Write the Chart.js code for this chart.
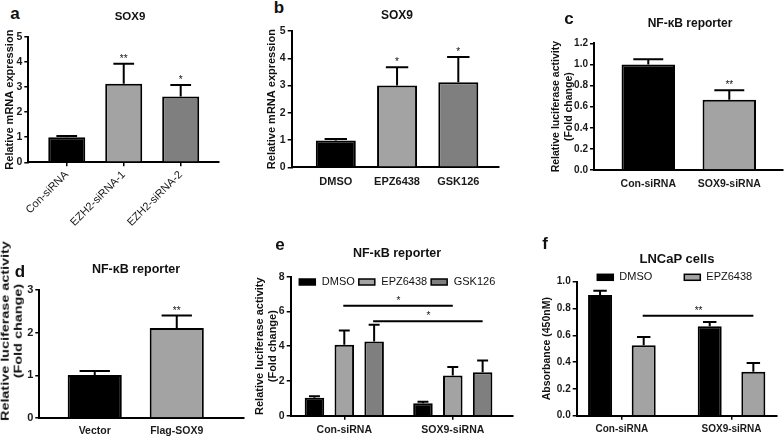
<!DOCTYPE html>
<html>
<head>
<meta charset="utf-8">
<script src="https://cdn.jsdelivr.net/npm/chart.js@4.4.1/dist/chart.umd.min.js"></script>
<style>
  body { margin: 0; background: #fff; }
  #fig { position: relative; width: 784px; height: 436px; overflow: hidden; font-family: 'Liberation Sans', Arial, sans-serif; color: #111; }
  #fig canvas { position: absolute; }
  .t { position: absolute; transform: translate(-50%, -50%); font-weight: bold; white-space: nowrap; }
  .l { position: absolute; transform: translate(-50%, -50%); font-weight: bold; font-size: 17px; }
</style>
</head>
<body>
<div id="fig">
  <canvas id="ca" width="250" height="201" style="left:0;top:25px"></canvas>
  <canvas id="cb" width="270" height="180" style="left:250px;top:20px"></canvas>
  <canvas id="cc" width="264" height="175" style="left:520px;top:25px"></canvas>
  <canvas id="cd" width="250" height="186" style="left:0;top:250px"></canvas>
  <canvas id="ce" width="270" height="201" style="left:250px;top:235px"></canvas>
  <canvas id="cf" width="264" height="201" style="left:520px;top:235px"></canvas>

  <div class="l" style="left:15px;top:14px">a</div>
  <div class="l" style="left:279px;top:8px">b</div>
  <div class="l" style="left:569px;top:19px">c</div>
  <div class="l" style="left:20px;top:272px">d</div>
  <div class="l" style="left:280px;top:245px">e</div>
  <div class="l" style="left:545px;top:244px">f</div>

  <div class="t" style="left:130px;top:16px;font-size:11.5px">SOX9</div>
  <div class="t" style="left:397px;top:15px;font-size:12px">SOX9</div>
  <div class="t" style="left:690px;top:23px;font-size:12px">NF-κB reporter</div>
  <div class="t" style="left:136px;top:269px;font-size:12.5px">NF-κB reporter</div>
  <div class="t" style="left:397px;top:253px;font-size:12.5px">NF-κB reporter</div>
  <div class="t" style="left:677px;top:258px;font-size:13px">LNCaP cells</div>

  <div class="t" style="left:11.5px;top:331px;font-size:11.5px;line-height:13.3px;text-align:center;transform:translate(-50%,-50%) rotate(-90deg) scaleX(1.25)">Relative luciferase activity<br>(Fold change)</div>
</div>
<script>
// panel a
var aLabels = ['Con-siRNA', 'EZH2-siRNA-1', 'EZH2-siRNA-2'];
var aValues = [1.0, 3.13, 2.63];
var aErrors = [0.05, 0.8, 0.45];
var aStars = ['', '**', '*'];
// panel b
var bLabels = ['DMSO', 'EPZ6438', 'GSK126'];
var bValues = [0.98, 3.0, 3.12];
var bErrors = [0.06, 0.67, 0.93];
var bStars = ['', '*', '*'];
// panel c
var cLabels = ['Con-siRNA', 'SOX9-siRNA'];
var cValues = [1.0, 0.665];
var cErrors = [0.05, 0.09];
var cStars = ['', '**'];
// panel d
var dLabels = ['Vector', 'Flag-SOX9'];
var dValues = [1.01, 2.11];
var dErrors = [0.09, 0.29];
var dStars = ['', '**'];
// panel e
var eGroups = ['Con-siRNA', 'SOX9-siRNA'];
var eDMSO = [1.04, 0.71];
var eDMSOErr = [0.08, 0.1];
var eEPZ = [4.08, 2.31];
var eEPZErr = [0.82, 0.5];
var eGSK = [4.27, 2.5];
var eGSKErr = [0.96, 0.67];
var eSigFrom = [[1, 0], [2, 0]];
var eSigTo = [[1, 1], [2, 1]];
var eSigY = [6.33, 5.44];
var eSigText = ['*', '*'];
// panel f
var fGroups = ['Con-siRNA', 'SOX9-siRNA'];
var fDMSO = [0.9, 0.667];
var fDMSOErr = [0.033, 0.032];
var fEPZ = [0.525, 0.328];
var fEPZErr = [0.062, 0.065];
var fSigFrom = [[1, 0]];
var fSigTo = [[1, 1]];
var fSigY = [0.746];
var fSigText = ['**'];

var BLACK = '#000000', LIGHT = '#a3a3a3', DARK = '#7f7f7f';
var FONT = "'Liberation Sans', Arial, sans-serif";
Chart.defaults.font.family = FONT;
Chart.defaults.color = '#111';

function pts(vals) {
  return vals.map(function(v, i) { return { x: i, y: v }; });
}

var errorBars = {
  id: 'errorBars',
  afterDatasetsDraw: function(chart) {
    var ctx = chart.ctx, ys = chart.scales.y;
    chart.data.datasets.forEach(function(ds, i) {
      chart.getDatasetMeta(i).data.forEach(function(bar, j) {
        var top = ys.getPixelForValue(ds.data[j].y + ds.errors[j]);
        var half = bar.width * 0.28;
        ctx.save();
        ctx.strokeStyle = '#000';
        ctx.lineWidth = 2;
        ctx.beginPath();
        ctx.moveTo(bar.x, bar.y);
        ctx.lineTo(bar.x, top);
        ctx.moveTo(bar.x - half, top);
        ctx.lineTo(bar.x + half, top);
        ctx.stroke();
        if (ds.stars && ds.stars[j]) {
          ctx.fillStyle = '#111';
          ctx.font = '10px ' + FONT;
          ctx.textAlign = 'center';
          ctx.fillText(ds.stars[j], bar.x, top - 2);
        }
        ctx.restore();
      });
    });
  }
};

var sig = {
  id: 'sig',
  afterDatasetsDraw: function(chart, args, o) {
    if (!o.y) return;
    var ctx = chart.ctx, ys = chart.scales.y;
    o.y.forEach(function(v, k) {
      var p = chart.getDatasetMeta(o.from[k][0]).data[o.from[k][1]];
      var q = chart.getDatasetMeta(o.to[k][0]).data[o.to[k][1]];
      var y = ys.getPixelForValue(v);
      ctx.save();
      ctx.strokeStyle = '#000';
      ctx.lineWidth = 2;
      ctx.beginPath();
      ctx.moveTo(p.x - 1, y);
      ctx.lineTo(q.x, y);
      ctx.stroke();
      ctx.fillStyle = '#111';
      ctx.font = '10px ' + FONT;
      ctx.textAlign = 'center';
      ctx.fillText(o.text[k], (p.x + q.x) / 2, y - 2);
      ctx.restore();
    });
  }
};

var boxLegend = {
  id: 'boxLegend',
  afterDraw: function(chart, args, o) {
    if (!o.show) return;
    var ctx = chart.ctx, a = chart.chartArea;
    var x = a.left + o.x, y = a.top + o.y;
    ctx.save();
    ctx.font = '11px ' + FONT;
    ctx.textBaseline = 'middle';
    ctx.textAlign = 'left';
    chart.data.datasets.forEach(function(ds) {
      ctx.fillStyle = ds.backgroundColor;
      ctx.fillRect(x, y - 3, 16, 6);
      ctx.strokeStyle = '#000';
      ctx.lineWidth = 1.5;
      ctx.strokeRect(x, y - 3, 16, 6);
      x += 16 + o.textGap;
      ctx.fillStyle = '#111';
      ctx.fillText(ds.label, x, y);
      x += ctx.measureText(ds.label).width + o.gap;
    });
    ctx.restore();
  }
};

function bars(label, vals, errs, color, stars) {
  return {
    label: label, data: pts(vals), errors: errs, stars: stars,
    backgroundColor: color, borderColor: '#000', borderWidth: 2
  };
}

function panel(id, o) {
  var ytitle = { display: false };
  if (o.ytitle) {
    ytitle = {
      display: true, text: o.ytitle, color: '#111',
      font: { family: FONT, size: o.ytsize, weight: 'bold', lineHeight: 1.2 },
      padding: { top: o.ytpad, bottom: 0 }
    };
  }
  o.xfont.family = FONT;
  return new Chart(document.getElementById(id), {
    type: 'bar',
    data: { datasets: o.sets.map(function(s) {
      s.categoryPercentage = o.cat;
      s.barPercentage = o.bar;
      return s;
    }) },
    options: {
      responsive: false,
      animation: false,
      layout: { padding: { top: o.pad[0], right: o.pad[1], bottom: 0, left: 0 } },
      plugins: {
        legend: { display: false },
        tooltip: { enabled: false },
        sig: o.sig || {},
        boxLegend: o.legend || {}
      },
      scales: {
        x: {
          type: 'linear', min: o.xmin, max: o.xmax, offset: false,
          afterBuildTicks: function(s) {
            s.ticks = o.labels.map(function(_, i) { return { value: i }; });
          },
          afterFit: function(s) { s.height = o.xh; },
          grid: { display: true, offset: false, drawOnChartArea: false, drawTicks: true, tickLength: o.xtick, color: '#000', lineWidth: 1.5 },
          border: { display: true, color: '#000', width: 2 },
          ticks: {
            autoSkip: false, maxRotation: o.rot, minRotation: o.rot, padding: o.xpad,
            color: '#1a1a1a', font: o.xfont,
            callback: function(v) { return o.labels[v]; }
          }
        },
        y: {
          min: 0, max: o.ymax,
          afterFit: function(s) { s.width = o.yw; },
          grid: { display: true, drawOnChartArea: false, drawTicks: true, tickLength: 4, color: '#000', lineWidth: 1.5 },
          border: { display: true, color: '#000', width: 2 },
          ticks: {
            stepSize: o.step, padding: 2, color: '#1a1a1a',
            font: { family: FONT, size: o.ytick, weight: 'bold' },
            callback: function(v) { return o.dec ? v.toFixed(o.dec) : v; }
          },
          title: ytitle
        }
      }
    },
    plugins: [errorBars, sig, boxLegend]
  });
}

panel('ca', {
  labels: aLabels,
  sets: [{
    label: 'SOX9', data: pts(aValues), errors: aErrors, stars: aStars,
    backgroundColor: [BLACK, LIGHT, DARK], borderColor: '#000', borderWidth: 2
  }],
  cat: 1, bar: 0.65, xmin: -0.675, xmax: 2.66, pad: [12, 31.7], yw: 28.3, xh: 63.7,
  xtick: 4, rot: 45, xpad: 2, xfont: { size: 11, weight: 'normal' },
  ymax: 5, step: 1, ytick: 10.5,
  ytitle: 'Relative mRNA expression', ytsize: 11, ytpad: 3.4
});

panel('cb', {
  labels: bLabels,
  sets: [{
    label: 'SOX9', data: pts(bValues), errors: bErrors, stars: bStars,
    backgroundColor: [BLACK, LIGHT, DARK], borderColor: '#000', borderWidth: 2
  }],
  cat: 1, bar: 0.653, xmin: -0.72, xmax: 2.653, pad: [11, 21.7], yw: 41.7, xh: 32.7,
  xtick: 0, rot: 0, xpad: 8, xfont: { size: 11, weight: 'bold' },
  ymax: 5, step: 1, ytick: 10.5,
  ytitle: 'Relative mRNA expression', ytsize: 11, ytpad: 15
});

panel('cc', {
  labels: cLabels,
  sets: [{
    label: 'NF-κB', data: pts(cValues), errors: cErrors, stars: cStars,
    backgroundColor: [BLACK, LIGHT], borderColor: '#000', borderWidth: 2
  }],
  cat: 1, bar: 0.66, xmin: -0.67, xmax: 1.663, pad: [18.3, 1], yw: 74, xh: 30,
  xtick: 0, rot: 0, xpad: 8, xfont: { size: 10.5, weight: 'bold' },
  ymax: 1.2, step: 0.2, dec: 1, ytick: 10,
  ytitle: ['Relative luciferase activity', '(Fold change)'], ytsize: 10.5, ytpad: 30
});

panel('cd', {
  labels: dLabels,
  sets: [{
    label: 'NF-κB', data: pts(dValues), errors: dErrors, stars: dStars,
    backgroundColor: [BLACK, LIGHT], borderColor: '#000', borderWidth: 2
  }],
  cat: 1, bar: 0.66, xmin: -0.676, xmax: 1.82, pad: [40, 6], yw: 39.3, xh: 18,
  xtick: 0, rot: 0, xpad: 7, xfont: { size: 10.5, weight: 'bold' },
  ymax: 3, step: 1, ytick: 11
});

panel('ce', {
  labels: eGroups,
  sets: [
    bars('DMSO', eDMSO, eDMSOErr, BLACK),
    bars('EPZ6438', eEPZ, eEPZErr, LIGHT),
    bars('GSK126', eGSK, eGSKErr, DARK)
  ],
  cat: 0.825, bar: 0.655, xmin: -0.494, xmax: 1.555, pad: [41.7, 7], yw: 40.7, xh: 20.3,
  xtick: 4, rot: 0, xpad: 4, xfont: { size: 10.5, weight: 'bold' },
  ymax: 8, step: 2, ytick: 10.5,
  ytitle: ['Relative luciferase activity', '(Fold change)'], ytsize: 11, ytpad: 3.4,
  sig: { from: eSigFrom, to: eSigTo, y: eSigY, text: eSigText },
  legend: { show: true, x: 8.6, y: 5.3, textGap: 6.5, gap: 4 }
});

panel('cf', {
  labels: fGroups,
  sets: [
    bars('DMSO', fDMSO, fDMSOErr, BLACK),
    bars('EPZ6438', fEPZ, fEPZErr, LIGHT)
  ],
  cat: 0.796, bar: 0.55, xmin: -0.412, xmax: 1.412, pad: [46.7, 7.3], yw: 56.7, xh: 20.3,
  xtick: 4, rot: 0, xpad: 4, xfont: { size: 10, weight: 'bold' },
  ymax: 1.0, step: 0.2, dec: 1, ytick: 10,
  ytitle: 'Absorbance (450nM)', ytsize: 10.5, ytpad: 20.4,
  sig: { from: fSigFrom, to: fSigTo, y: fSigY, text: fSigText },
  legend: { show: true, x: 20.6, y: -4.4, textGap: 6, gap: 32 }
});
</script>
</body>
</html>
